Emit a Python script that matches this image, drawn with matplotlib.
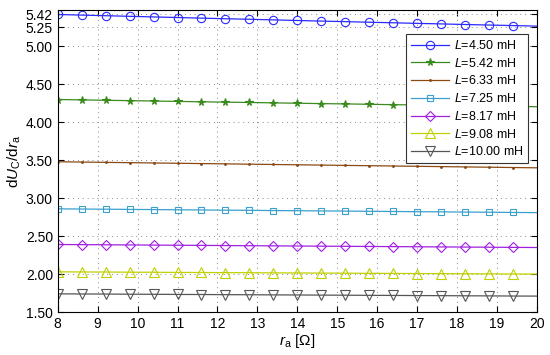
import numpy as np
import matplotlib
matplotlib.use('Agg')
import matplotlib.pyplot as plt

plt.rcParams['font.family'] = ['Liberation Sans', 'DejaVu Sans']
plt.rcParams['mathtext.fontset'] = 'custom'
plt.rcParams['mathtext.rm'] = 'Liberation Sans'
plt.rcParams['mathtext.it'] = 'Liberation Sans:italic'

# r_a values, markers every 0.6 Ohm, line ends at 20
ra = np.array([8.0, 8.6, 9.2, 9.8, 10.4, 11.0, 11.6, 12.2, 12.8, 13.4, 14.0,
               14.6, 15.2, 15.8, 16.4, 17.0, 17.6, 18.2, 18.8, 19.4, 20.0])

labels = ['4.50', '5.42', '6.33', '7.25', '8.17', '9.08', '10.00']

d450 = [5.420, 5.412, 5.404, 5.396, 5.388, 5.380, 5.372, 5.364, 5.357, 5.349, 5.341,
        5.333, 5.326, 5.318, 5.311, 5.303, 5.296, 5.288, 5.281, 5.274, 5.267]
d542 = [4.300, 4.295, 4.290, 4.285, 4.280, 4.275, 4.270, 4.265, 4.261, 4.256, 4.251,
        4.246, 4.242, 4.237, 4.232, 4.228, 4.223, 4.219, 4.214, 4.210, 4.205]
d633 = [3.480, 3.476, 3.472, 3.468, 3.464, 3.460, 3.456, 3.452, 3.448, 3.444, 3.440,
        3.436, 3.432, 3.428, 3.424, 3.420, 3.416, 3.412, 3.408, 3.404, 3.400]
d725 = [2.860, 2.857, 2.855, 2.852, 2.850, 2.847, 2.845, 2.842, 2.840, 2.837, 2.835,
        2.832, 2.830, 2.827, 2.825, 2.822, 2.820, 2.817, 2.815, 2.812, 2.810]
d817 = [2.390, 2.388, 2.386, 2.384, 2.382, 2.380, 2.378, 2.376, 2.374, 2.372, 2.370,
        2.368, 2.366, 2.364, 2.362, 2.360, 2.358, 2.356, 2.354, 2.352, 2.350]
d908 = [2.030, 2.028, 2.027, 2.025, 2.024, 2.022, 2.021, 2.019, 2.018, 2.016, 2.015,
        2.013, 2.012, 2.010, 2.009, 2.007, 2.006, 2.004, 2.003, 2.001, 2.000]
d1000 = [1.740, 1.738, 1.737, 1.735, 1.734, 1.732, 1.731, 1.729, 1.728, 1.726, 1.725,
         1.723, 1.722, 1.720, 1.719, 1.717, 1.716, 1.714, 1.713, 1.711, 1.710]

series = [d450, d542, d633, d725, d817, d908, d1000]
colors = ['#2a2aff', '#3a8a1e', '#8b4a13', '#3aa0cc', '#a020e0', '#c0d000', '#555555']
markers = ['o', '*', '.', 's', 'D', '^', 'v']
msizes = [6, 5.5, 2.5, 5, 5, 6.5, 6.5]

yticks = [1.5, 2.0, 2.5, 3.0, 3.5, 4.0, 4.5, 5.0, 5.25, 5.42]

fig = plt.figure(figsize=(5.5, 3.55), dpi=100)
ax = fig.add_axes([0.105, 0.121, 0.871, 0.851])

for lab, d, c, m, ms in zip(labels, series, colors, markers, msizes):
    mfc = c if m in ('*', '.') else 'none'
    ax.plot(ra, d, color=c, lw=0.9, marker=m, ms=ms, mfc=mfc, mec=c,
            mew=0.8, markevery=slice(0, 20), label=r'$L$=' + lab + ' mH')

ax.set_xlim(8, 20)
ax.set_ylim(1.5, 5.48)
ax.set_xticks(range(8, 21))
ax.set_yticks(yticks)
ax.set_yticklabels(['%.2f' % v for v in yticks])
ax.tick_params(direction='in', labelsize=10, length=4)
ax.tick_params(top=True, right=True)
ax.grid(True, linestyle=(0, (1, 4)), color='#888888', lw=0.7)

ax.set_xlabel(r'$r_{\rm a}$ [$\Omega$]', fontsize=11, labelpad=1)
ax.set_ylabel(r'd$U_{\rm C}$/d$r_{\rm a}$', fontsize=11, labelpad=2)

leg = ax.legend(loc='upper right', bbox_to_anchor=(0.99, 0.933), fontsize=9,
                fancybox=False, framealpha=1, edgecolor='#333333',
                handlelength=3.0, borderpad=0.4, labelspacing=0.38,
                handletextpad=0.4, borderaxespad=0.3)
leg.get_frame().set_linewidth(0.8)

fig.savefig('out.png', dpi=100)
